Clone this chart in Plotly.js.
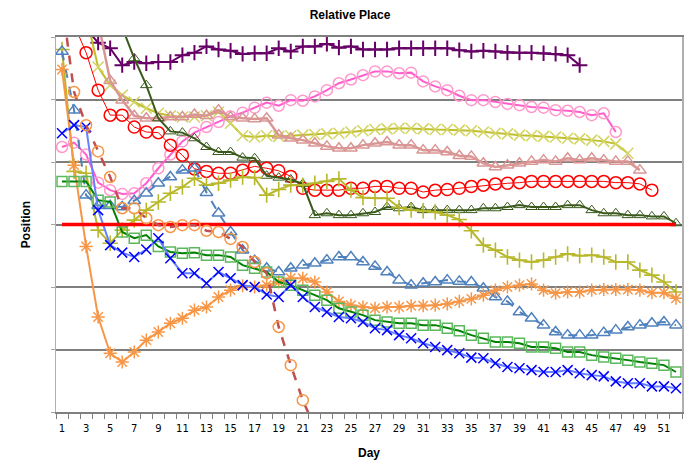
<!DOCTYPE html>
<html>
<head>
<meta charset="utf-8">
<script src="https://cdn.plot.ly/plotly-3.0.1.min.js"></script>
<style>
  html, body { margin: 0; padding: 0; background: #ffffff; }
  #chart { width: 700px; height: 465px; }
</style>
</head>
<body>
<div id="chart"></div>
<script>
// Day numbers along the x axis
const days = [1,2,3,4,5,6,7,8,9,10,11,12,13,14,15,16,17,18,19,20,21,22,23,24,25,26,
              27,28,29,30,31,32,33,34,35,36,37,38,39,40,41,42,43,44,45,46,47,48,49,50,51,52];
const dayTickVals = [1,3,5,7,9,11,13,15,17,19,21,23,25,27,29,31,33,35,37,39,41,43,45,47,49,51];
const dayTickText = ['1','3','5','7','9','11','13','15','17','19','21','23','25','27','29','31','33','35','37','39','41','43','45','47','49','51'];

// Position of each entrant per day (null = not running that day)
const purplePlus = [null,null,6.13,5.91,5.82,5.55,5.60,5.58,5.60,5.60,5.71,5.75,5.85,5.80,5.78,5.73,5.74,5.74,5.82,5.77,
  5.85,5.85,5.89,5.83,5.85,5.80,5.80,5.80,5.82,5.82,5.82,5.82,5.82,5.79,5.77,5.78,5.77,5.75,5.75,5.75,5.74,5.73,5.71,5.55,
  null,null,null,null,null,null,null,null];

const pinkCircle = [4.24,4.31,4.12,3.67,3.55,3.49,3.50,3.66,3.90,4.12,4.33,4.47,4.56,4.64,4.73,4.79,4.87,4.95,4.90,4.99,
  4.98,5.05,5.15,5.26,5.32,5.39,5.45,5.45,5.42,5.43,5.29,5.21,5.15,5.06,4.99,4.99,4.96,4.93,4.91,4.88,4.87,4.83,4.82,4.80,
  4.75,4.78,4.48,null,null,null,null,null];

const oliveCross = [null,null,6.34,5.52,5.23,5.07,4.96,4.86,4.78,4.74,4.72,4.72,4.74,4.80,4.62,4.42,4.40,4.42,4.41,4.42,
  4.43,4.44,4.45,4.46,4.48,4.50,4.52,4.53,4.54,4.54,4.53,4.52,4.52,4.51,4.50,4.48,4.46,4.45,4.43,4.42,4.41,4.40,4.38,4.37,
  4.35,4.33,4.29,4.14,null,null,null,null];

const salmonTri = [null,null,null,6.25,5.30,4.99,4.74,4.70,4.70,4.72,4.72,4.76,4.74,4.83,4.72,4.70,4.69,4.70,4.43,4.38,
  4.35,4.30,4.25,4.22,4.22,4.27,4.30,4.32,4.27,4.27,4.19,4.19,4.16,4.10,4.09,3.98,3.92,3.95,3.98,4.01,4.03,4.01,4.06,4.03,
  4.06,4.03,4.01,4.01,3.87,null,null,null];

const redCircle = [null,6.20,5.75,5.15,4.75,4.75,4.56,4.48,4.47,4.27,4.11,3.89,3.85,3.82,3.82,3.87,3.93,3.90,3.86,3.77,
  3.58,3.55,3.55,3.55,3.58,3.58,3.61,3.61,3.58,3.58,3.52,3.55,3.56,3.58,3.61,3.63,3.65,3.66,3.67,3.69,3.69,3.69,3.69,3.69,
  3.69,3.69,3.67,3.67,3.65,3.55,null,null];

const darkGreenTri = [null,null,null,null,null,6.15,5.66,5.23,4.70,4.49,4.47,4.38,4.24,4.16,4.16,4.07,4.06,3.78,3.75,3.72,
  3.65,3.15,3.18,3.15,3.15,3.18,3.20,3.28,3.26,3.28,3.23,3.23,3.23,3.23,3.23,3.26,3.26,3.28,3.31,3.28,3.28,3.28,3.31,3.31,
  3.23,3.18,3.18,3.15,3.15,3.13,3.13,3.02];

const limePlus = [5.80,3.85,3.82,2.91,2.70,2.91,3.07,3.23,3.36,3.50,3.60,3.74,3.63,3.66,3.71,3.76,3.75,3.47,3.56,3.63,
  3.63,3.66,3.69,3.73,3.55,3.43,3.42,3.42,3.27,3.23,3.22,3.20,3.15,3.08,2.90,2.67,2.59,2.48,2.43,2.40,2.43,2.48,2.53,2.50,
  2.51,2.48,2.40,2.40,2.27,2.19,2.08,1.92];

const midLine = [3,3,3,3,3,3,3,3,3,3,3,3,3,3,3,3,3,3,3,3,3,3,3,3,3,3,
                 3,3,3,3,3,3,3,3,3,3,3,3,3,3,3,3,3,3,3,3,3,3,3,3,3,3];

const steelTri = [5.77,4.83,3.47,3.30,3.30,3.28,3.38,3.50,3.66,3.76,3.87,3.90,3.51,3.18,2.88,2.59,2.42,2.30,2.24,2.30,
  2.35,2.38,2.43,2.48,2.48,2.40,2.33,2.24,2.11,2.03,2.06,2.08,2.11,2.09,2.08,1.98,1.84,1.77,1.60,1.50,1.39,1.28,1.23,1.23,
  1.23,1.27,1.31,1.36,1.39,1.42,1.44,1.39];

const orangeStar = [5.48,3.95,2.65,1.52,0.94,0.80,0.96,1.15,1.28,1.42,1.50,1.63,1.68,1.84,1.95,2.02,2.00,2.03,2.08,2.14,
  2.14,2.08,1.92,1.77,1.71,1.68,1.66,1.68,1.68,1.70,1.70,1.71,1.73,1.77,1.81,1.87,1.95,2.00,2.03,2.05,1.95,1.90,1.92,1.92,
  1.95,1.96,1.96,1.96,1.95,1.91,1.91,1.82];

const greenSquare = [3.69,3.69,3.69,3.39,3.36,2.88,2.78,2.83,2.65,2.56,2.54,2.55,2.51,2.51,2.48,2.35,2.30,2.24,2.08,2.03,
  1.95,1.87,1.79,1.66,1.60,1.55,1.47,1.44,1.42,1.42,1.39,1.39,1.34,1.30,1.23,1.18,1.12,1.12,1.10,1.04,1.04,1.02,0.96,0.96,
  0.91,0.88,0.86,0.83,0.80,0.78,0.75,0.64];

const blueCross = [4.46,4.59,4.56,3.23,2.67,2.55,2.48,2.60,2.78,2.46,2.22,2.22,2.06,2.24,2.14,2.03,2.00,1.88,1.84,2.03,
  1.84,1.68,1.60,1.52,1.50,1.44,1.34,1.31,1.23,1.18,1.10,1.04,0.99,0.94,0.87,0.86,0.78,0.72,0.70,0.67,0.64,0.64,0.67,0.62,
  0.59,0.57,0.49,0.46,0.46,0.41,0.41,0.38];

const brownDash = [6.56,5.12,4.59,4.17,3.76,3.26,3.26,3.10,2.99,2.96,2.99,2.99,2.90,2.88,2.77,2.64,2.40,2.22,1.36,0.75,
  0.19,-0.25,null,null,null,null,null,null,null,null,null,null,null,null,null,null,null,null,null,null,null,null,null,null,
  null,null,null,null,null,null,null,null];

function series(y, lineColor, lineWidth, dash, symbol, markColor, size, markLine) {
  const t = {
    x: days, y: y, type: 'scatter', mode: symbol ? 'lines+markers' : 'lines',
    line: { color: lineColor, width: lineWidth, dash: dash || 'solid' },
    connectgaps: false, hoverinfo: 'skip', showlegend: false
  };
  if (symbol) {
    t.marker = { symbol: symbol, size: size, color: markColor,
                 line: { color: markColor, width: markLine } };
  }
  return t;
}

const traces = [
  series(purplePlus,   '#660066', 2,   null,   'cross-thin-open',   '#660066', 11, 2),
  series(pinkCircle,   '#ff5ccd', 2,   null,   'circle-open',       '#ff99cc', 11, 1.5),
  series(oliveCross,   '#bfbf2a', 2,   null,   'x-thin-open',       '#d4d468', 11, 1.6),
  series(salmonTri,    '#d99694', 2.5, null,   'triangle-up-open',  '#d99694', 11, 1.5),
  series(redCircle,    '#ff0000', 1,   null,   'circle-open',       '#ff0000', 12, 1.5),
  series(darkGreenTri, '#3a5a1c', 2,   null,   'triangle-up-open',  '#3a5a1c', 10, 1),
  series(limePlus,     '#b8b82c', 2,   null,   'cross-thin-open',   '#b8b82c', 11, 1.6),
  series(steelTri,     '#4f81bd', 2,   'dash', 'triangle-up-open',  '#4f81bd', 11, 1.5),
  series(orangeStar,   '#f79646', 2,   null,   'asterisk-open',     '#f79646', 11, 1.5),
  series(greenSquare,  '#008000', 2,   null,   'square-open',       '#5cb85c', 10, 1.5),
  series(blueCross,    '#6680ff', 2,   null,   'x-thin-open',       '#0000ff', 10, 1.5),
  series(midLine,      '#ff0000', 3.5, null,   null, null, 0, 0),
  series(brownDash,    '#c0504d', 2.5, 'dash', 'circle-open',       '#f79646', 11, 1.5)
];

const layout = {
  width: 700, height: 465,
  margin: { l: 56, r: 18, t: 37, b: 53, pad: 0 },
  paper_bgcolor: '#ffffff', plot_bgcolor: '#ffffff',
  font: { family: 'DejaVu Sans, Verdana, sans-serif', color: '#000000', size: 10 },
  title: {
    text: '<b>Relative Place</b>',
    font: { family: 'Liberation Sans, Arial, sans-serif', size: 12, color: '#000000' },
    x: 0.5, xref: 'container', xanchor: 'center',
    y: 1 - 15 / 465, yref: 'container', yanchor: 'middle'
  },
  xaxis: {
    range: [0.5, 52.5],
    tickmode: 'array', tickvals: dayTickVals, ticktext: dayTickText,
    ticks: '', showgrid: false, zeroline: false,
    showline: true, linecolor: '#808080', linewidth: 2, mirror: true,
    minor: { tick0: 0.5, dtick: 1, ticks: 'outside', ticklen: 5, tickwidth: 1, tickcolor: '#808080', showgrid: false },
    tickfont: { family: 'DejaVu Sans, Verdana, sans-serif', size: 10, color: '#000000' },
    ticklabelstandoff: 6,
    title: { text: '<b>Day</b>', standoff: 16,
             font: { family: 'Liberation Sans, Arial, sans-serif', size: 12, color: '#000000' } },
    fixedrange: true
  },
  yaxis: {
    range: [0, 6], tickmode: 'linear', tick0: 0, dtick: 1,
    showticklabels: false, ticks: 'outside', ticklen: 4, tickcolor: '#a6a6a6',
    showgrid: true, gridcolor: '#7f7f7f', gridwidth: 2, zeroline: false,
    showline: true, linecolor: '#b0b0b0', linewidth: 1.5, mirror: true,
    title: { text: '<b>Position</b>', standoff: 17,
             font: { family: 'Liberation Sans, Arial, sans-serif', size: 12, color: '#000000' } },
    fixedrange: true
  }
};

Plotly.newPlot('chart', traces, layout, { staticPlot: true, displayModeBar: false });
</script>
</body>
</html>
